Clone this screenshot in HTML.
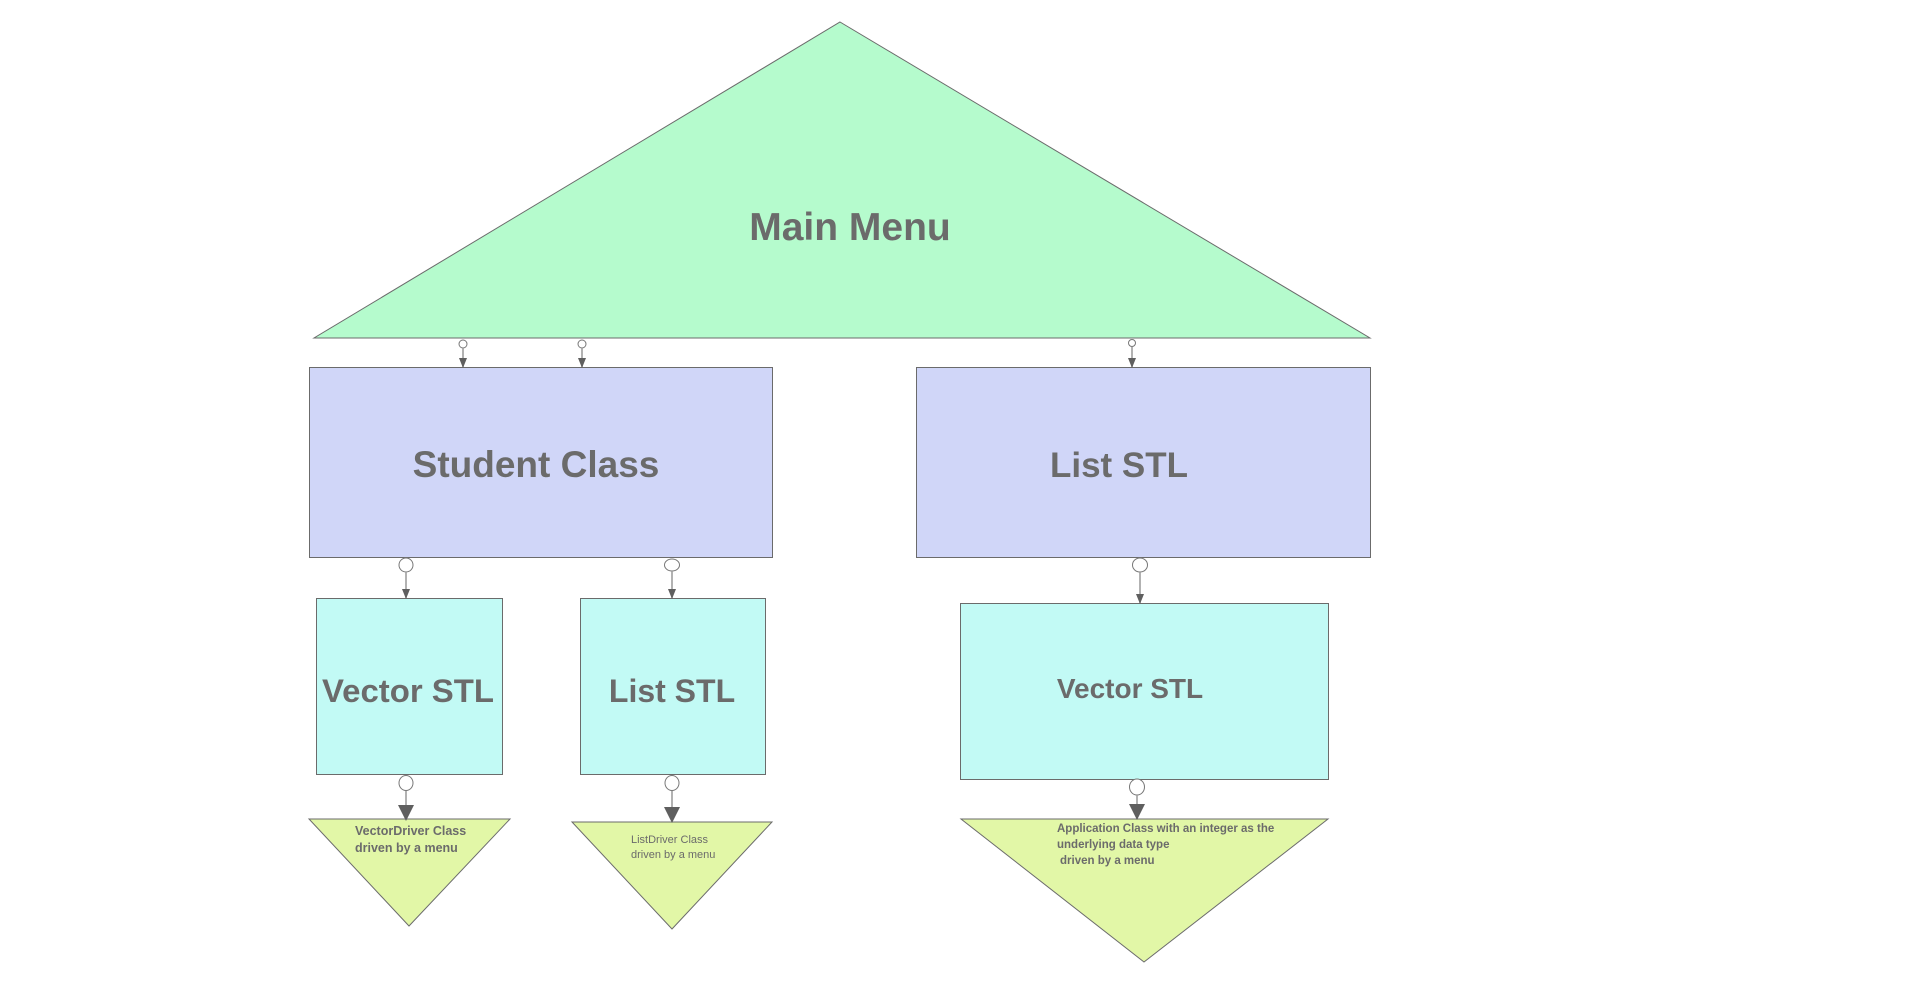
<!DOCTYPE html>
<html><head><meta charset="utf-8"><style>
html,body{margin:0;padding:0;background:#fff;width:1920px;height:998px;overflow:hidden}
text{font-family:"Liberation Sans","DejaVu Sans",sans-serif;fill:#6b6b6b;font-weight:bold}
</style></head><body>
<svg width="1920" height="998" viewBox="0 0 1920 998" xmlns="http://www.w3.org/2000/svg">
<defs>
<marker id="ar" markerWidth="10" markerHeight="8" refX="9" refY="4" orient="auto" markerUnits="userSpaceOnUse"><path d="M0,0 L10,4 L0,8z" fill="#5f5f5f"/></marker>
<marker id="ar2" markerWidth="16" markerHeight="16" refX="15" refY="8" orient="auto" markerUnits="userSpaceOnUse"><path d="M0,0 L16,8 L0,16z" fill="#5f5f5f"/></marker>
</defs>
<polygon points="840,22 1370,338 314,338" fill="#b5fbcd" stroke="#6b6b6b" stroke-width="1"/>
<text x="850" y="240" font-size="39" text-anchor="middle">Main Menu</text>

<rect x="309.5" y="367.5" width="463" height="190" fill="#d0d6f8" stroke="#6b6b6b"/>
<text x="536" y="477" font-size="37" text-anchor="middle">Student Class</text>
<rect x="916.5" y="367.5" width="454" height="190" fill="#d0d6f8" stroke="#6b6b6b"/>
<text x="1119" y="477" font-size="35" text-anchor="middle">List STL</text>

<rect x="316.5" y="598.5" width="186" height="176" fill="#c2faf5" stroke="#6b6b6b"/>
<text x="408" y="702" font-size="32" text-anchor="middle" textLength="172" lengthAdjust="spacingAndGlyphs">Vector STL</text>
<rect x="580.5" y="598.5" width="185" height="176" fill="#c2faf5" stroke="#6b6b6b"/>
<text x="672" y="702" font-size="32" text-anchor="middle">List STL</text>
<rect x="960.5" y="603.5" width="368" height="176" fill="#c2faf5" stroke="#6b6b6b"/>
<text x="1130" y="698" font-size="28" text-anchor="middle">Vector STL</text>

<polygon points="309,819 510,819 409,926" fill="#e2f7a7" stroke="#6b6b6b"/>
<text x="355" y="835" font-size="12.5">VectorDriver Class</text>
<text x="355" y="852" font-size="12.5">driven by a menu</text>
<polygon points="572,822 772,822 672,929" fill="#e2f7a7" stroke="#6b6b6b"/>
<text x="631" y="843" font-size="11" style="font-weight:normal">ListDriver Class</text>
<text x="631" y="858" font-size="11" style="font-weight:normal">driven by a menu</text>
<polygon points="961,819 1328,819 1144,962" fill="#e2f7a7" stroke="#6b6b6b"/>
<text x="1057" y="832" font-size="11.5">Application Class with an integer as the</text>
<text x="1057" y="848" font-size="11.5">underlying data type</text>
<text x="1060" y="864" font-size="11.5"> driven by a menu</text>

<g fill="#fff" stroke="#777" stroke-width="1">
<circle cx="463" cy="344" r="4"/><circle cx="582" cy="344" r="4"/><circle cx="1132" cy="343" r="3.5"/>
<ellipse cx="406" cy="565" rx="7" ry="7"/><ellipse cx="672" cy="565" rx="7.5" ry="6"/><ellipse cx="1140" cy="565" rx="7.5" ry="7"/>
<ellipse cx="406" cy="783" rx="7" ry="7.5"/><ellipse cx="672" cy="783" rx="7" ry="7.5"/><ellipse cx="1137" cy="787" rx="7.5" ry="8"/>
</g>
<g stroke="#999" stroke-width="1.5" fill="none">
<line x1="463" y1="348" x2="463" y2="367" marker-end="url(#ar)"/>
<line x1="582" y1="348" x2="582" y2="367" marker-end="url(#ar)"/>
<line x1="1132" y1="347" x2="1132" y2="367" marker-end="url(#ar)"/>
<line x1="406" y1="572" x2="406" y2="598" marker-end="url(#ar)"/>
<line x1="672" y1="571" x2="672" y2="598" marker-end="url(#ar)"/>
<line x1="1140" y1="572" x2="1140" y2="603" marker-end="url(#ar)"/>
<line x1="406" y1="791" x2="406" y2="820" marker-end="url(#ar2)"/>
<line x1="672" y1="791" x2="672" y2="822" marker-end="url(#ar2)"/>
<line x1="1137" y1="795" x2="1137" y2="819" marker-end="url(#ar2)"/>
</g>
</svg>
</body></html>
